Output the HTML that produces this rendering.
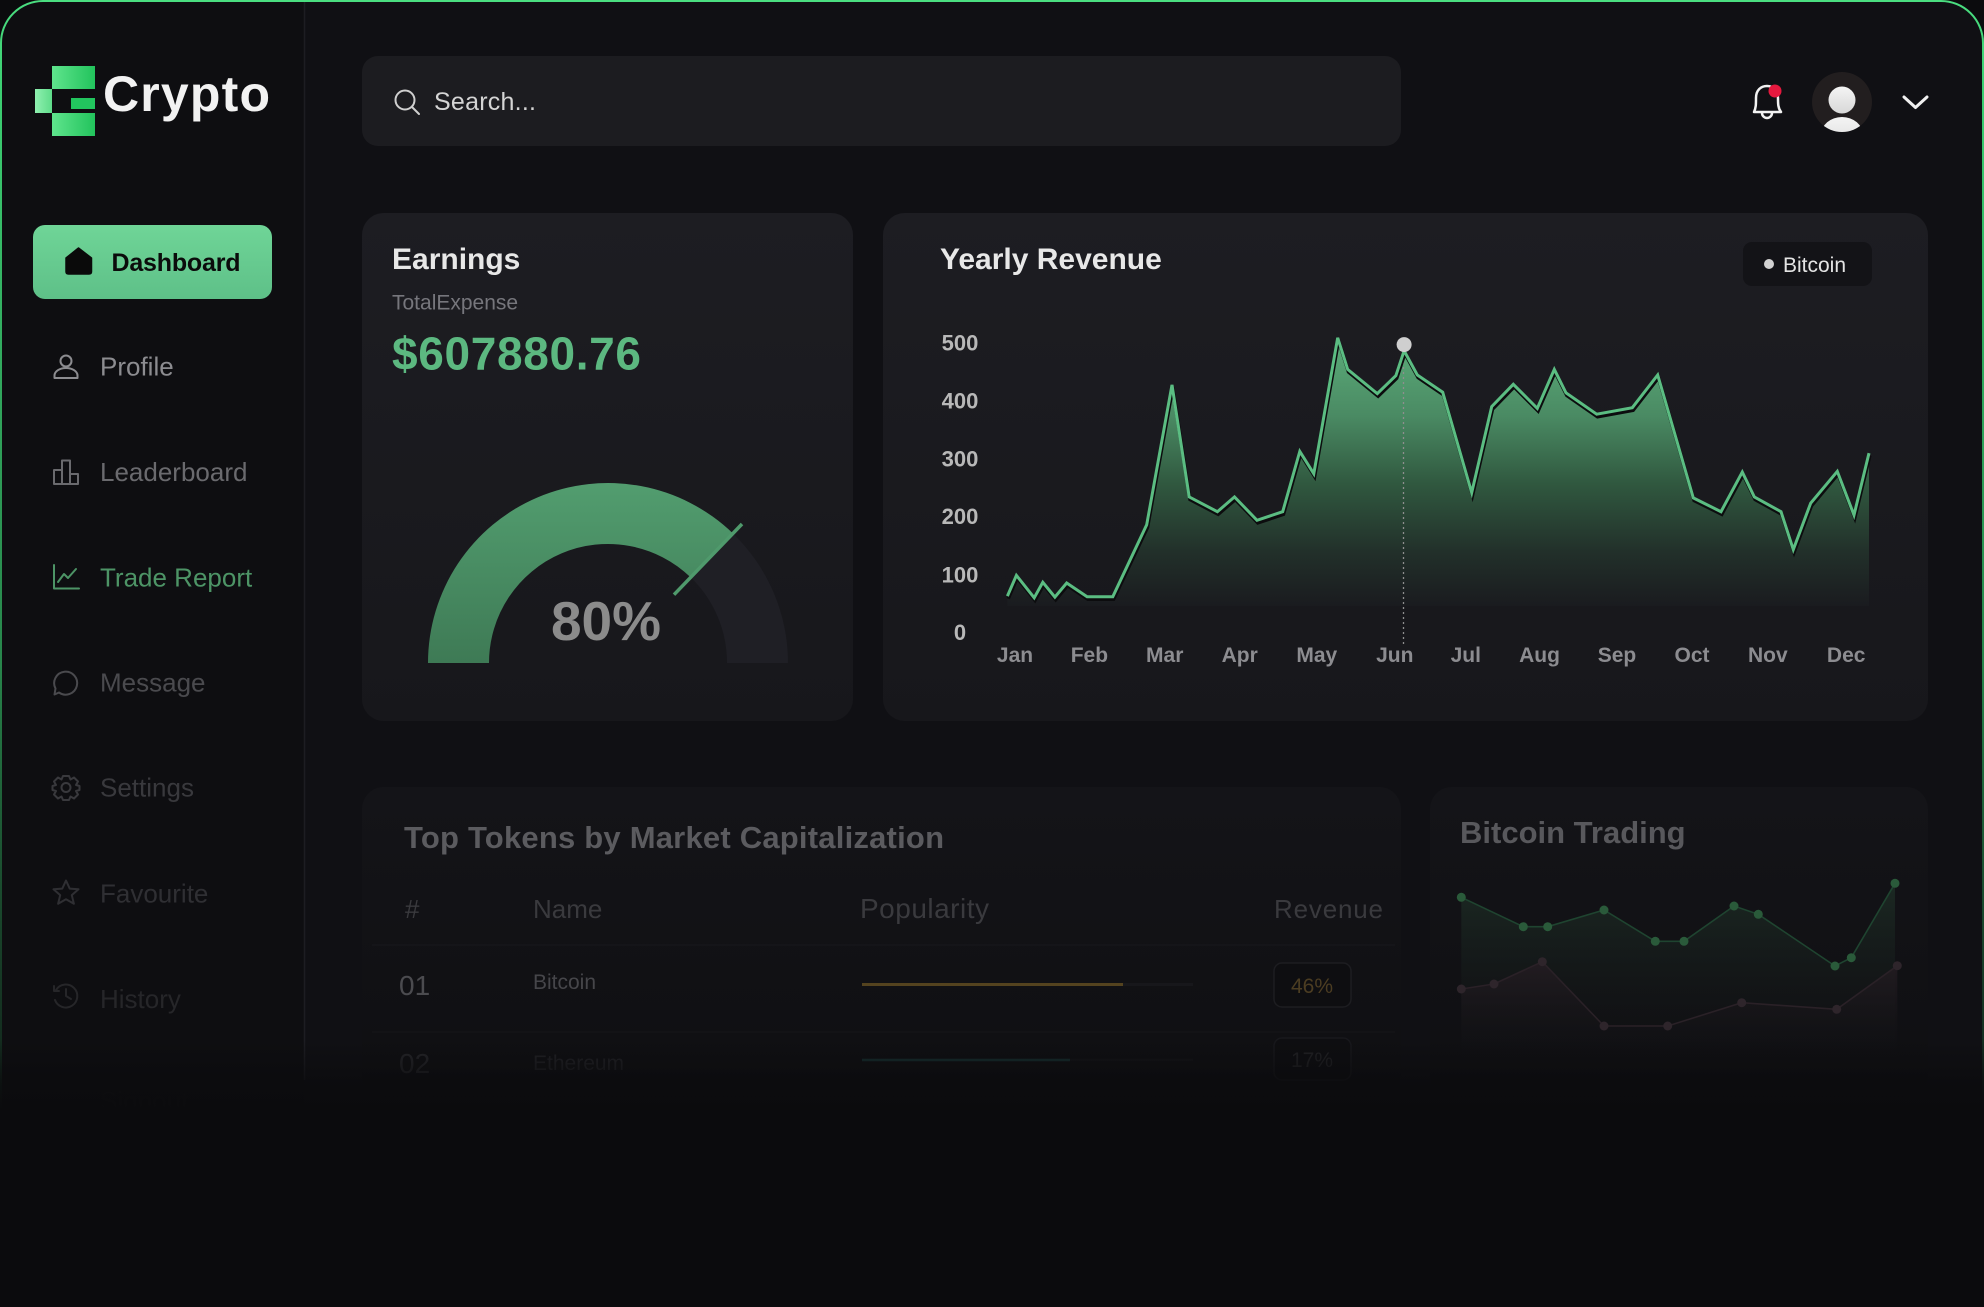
<!DOCTYPE html>
<html>
<head>
<meta charset="utf-8">
<style>
  html, body { margin:0; padding:0; background:#0b0b0d; }
  body { width:1984px; height:1307px; overflow:hidden; }
  svg { display:block; }
  text { font-family: "Liberation Sans", "DejaVu Sans", sans-serif; }
</style>
</head>
<body>
<svg width="1984" height="1307" viewBox="0 0 1984 1307" xmlns="http://www.w3.org/2000/svg">
  <defs>
    <clipPath id="frameClip">
      <path d="M0,1307 V42 A42,42 0 0 1 42,0 H1942 A42,42 0 0 1 1984,42 V1307 Z"/>
    </clipPath>
    <linearGradient id="bord" gradientUnits="userSpaceOnUse" x1="0" y1="0" x2="0" y2="1110">
      <stop offset="0" stop-color="#4ade80"/>
      <stop offset="0.08" stop-color="#3ccf72"/>
      <stop offset="0.6" stop-color="#2c9a55" stop-opacity="0.85"/>
      <stop offset="1" stop-color="#1f6e3c" stop-opacity="0.2"/>
    </linearGradient>
    <linearGradient id="fadeBottom" gradientUnits="userSpaceOnUse" x1="0" y1="1040" x2="0" y2="1110">
      <stop offset="0" stop-color="#0b0b0d" stop-opacity="0"/>
      <stop offset="0.6" stop-color="#0b0b0d" stop-opacity="0.75"/>
      <stop offset="1" stop-color="#0b0b0d" stop-opacity="1"/>
    </linearGradient>
    <linearGradient id="cardTop" x1="0" y1="0" x2="0" y2="1">
      <stop offset="0" stop-color="#1d1d22"/>
      <stop offset="1" stop-color="#17171b"/>
    </linearGradient>
    <linearGradient id="cardBot" x1="0" y1="0" x2="0" y2="1">
      <stop offset="0" stop-color="#141418"/>
      <stop offset="1" stop-color="#0f0f12"/>
    </linearGradient>
    <linearGradient id="btn" x1="0" y1="0" x2="0" y2="1">
      <stop offset="0" stop-color="#6fd597"/>
      <stop offset="1" stop-color="#5ec088"/>
    </linearGradient>
    <linearGradient id="logoA" x1="0" y1="0" x2="1" y2="0">
      <stop offset="0" stop-color="#5fe48d"/>
      <stop offset="1" stop-color="#22c35c"/>
    </linearGradient>
    <linearGradient id="logoB" x1="0" y1="0" x2="1" y2="0">
      <stop offset="0" stop-color="#8ff0b0"/>
      <stop offset="1" stop-color="#5fdc8a"/>
    </linearGradient>
    <linearGradient id="gauge" gradientUnits="userSpaceOnUse" x1="0" y1="483" x2="0" y2="663">
      <stop offset="0" stop-color="#529d6f"/>
      <stop offset="1" stop-color="#3e7a55"/>
    </linearGradient>
    <linearGradient id="area" gradientUnits="userSpaceOnUse" x1="0" y1="335" x2="0" y2="606">
      <stop offset="0" stop-color="#5cae7b"/>
      <stop offset="0.3" stop-color="#4a8a63"/>
      <stop offset="0.55" stop-color="#30583f"/>
      <stop offset="0.8" stop-color="#22302a"/>
      <stop offset="1" stop-color="#1a1b1f"/>
    </linearGradient>
    <linearGradient id="miniG" gradientUnits="userSpaceOnUse" x1="0" y1="880" x2="0" y2="1060">
      <stop offset="0" stop-color="#1d2d25" stop-opacity="0.9"/>
      <stop offset="1" stop-color="#121215" stop-opacity="0"/>
    </linearGradient>
    <linearGradient id="miniP" gradientUnits="userSpaceOnUse" x1="0" y1="960" x2="0" y2="1060">
      <stop offset="0" stop-color="#241c22" stop-opacity="0.95"/>
      <stop offset="1" stop-color="#121215" stop-opacity="0"/>
    </linearGradient>
    <linearGradient id="avBody" x1="0" y1="0" x2="0" y2="1">
      <stop offset="0" stop-color="#f4f4f4"/>
      <stop offset="1" stop-color="#d8d8d8"/>
    </linearGradient>
    <clipPath id="avClip"><circle cx="1842" cy="102" r="30"/></clipPath>
  </defs>

  <!-- background & frame -->
  <rect width="1984" height="1307" fill="#0b0b0d"/>
  <g clip-path="url(#frameClip)">
    <rect width="1984" height="1307" fill="#101014"/>
    <rect width="304" height="1307" fill="#0e0e11"/>
  </g>
  <line x1="304.5" y1="0" x2="304.5" y2="1080" stroke="#1d1d22" stroke-width="1.5"/>
  <path d="M1,1307 V43 A42,42 0 0 1 43,1 H1941 A42,42 0 0 1 1983,43 V1307" fill="none" stroke="url(#bord)" stroke-width="2"/>

  <!-- logo -->
  <rect x="52" y="66" width="43" height="23" fill="url(#logoA)"/>
  <rect x="35" y="89" width="17" height="24" fill="url(#logoB)"/>
  <rect x="71" y="98" width="24" height="11" fill="#22c55e"/>
  <rect x="52" y="113" width="43" height="23" fill="url(#logoA)"/>
  <text x="103" y="111" font-size="50" font-weight="bold" fill="#f2f2f2" textLength="167" lengthAdjust="spacing">Crypto</text>

  <!-- search -->
  <rect x="362" y="56" width="1039" height="90" rx="16" fill="#1c1c20"/>
  <circle cx="405" cy="100" r="9.5" fill="none" stroke="#cfcfcf" stroke-width="2"/>
  <line x1="412" y1="107" x2="419" y2="114" stroke="#cfcfcf" stroke-width="2" stroke-linecap="round"/>
  <text x="434" y="110" font-size="25" fill="#d4d4d4" textLength="102" lengthAdjust="spacing">Search...</text>

  <!-- top right -->
  <path d="M1754,112 C1756,108 1756,104 1756,98 C1756,90 1761,86 1767,86 C1773,86 1778,90 1778,98 C1778,104 1778,108 1781,112 Z" fill="none" stroke="#f2f2f2" stroke-width="2.5" stroke-linejoin="round"/>
  <path d="M1762,113 A5,5 0 0 0 1772,113" fill="none" stroke="#f2f2f2" stroke-width="2.5"/>
  <circle cx="1775" cy="91" r="6.5" fill="#e5183e"/>
  <circle cx="1842" cy="102" r="30" fill="#221e1f"/>
  <g clip-path="url(#avClip)">
    <circle cx="1842" cy="100" r="13.5" fill="url(#avBody)"/>
    <ellipse cx="1842" cy="135" rx="21" ry="18" fill="url(#avBody)"/>
  </g>
  <polyline points="1904,97 1915.5,107.5 1927,97" fill="none" stroke="#f0f0f0" stroke-width="3" stroke-linecap="round" stroke-linejoin="round"/>

  <!-- sidebar -->
  <rect x="33" y="225" width="239" height="74" rx="12" fill="url(#btn)"/>
  <path d="M66,258 L78.5,248 L91.5,258 V271.5 Q91.5,274 89,274 H68.5 Q66,274 66,271.5 Z" fill="#0a0a0a" stroke="#0a0a0a" stroke-width="1.5" stroke-linejoin="round"/>
  <text x="111.5" y="271" font-size="25" font-weight="bold" fill="#0b0b0b" textLength="129" lengthAdjust="spacing">Dashboard</text>

  <!-- Profile -->
  <g fill="none" stroke="#8c8c90" stroke-width="2">
    <circle cx="66" cy="361" r="5.5"/>
    <path d="M54.5,378 V375.5 A11.5,7.5 0 0 1 77.5,375.5 V378 Z" stroke-linejoin="round"/>
  </g>
  <text x="100" y="375.7" font-size="26" fill="#8c8c90">Profile</text>

  <!-- Leaderboard -->
  <g fill="none" stroke="#6a6a6e" stroke-width="2" stroke-linejoin="round">
    <path d="M54,484 V470 H62 V460.5 H70 V474 H78 V484 Z"/>
    <line x1="62" y1="470" x2="62" y2="484"/>
    <line x1="70" y1="474" x2="70" y2="484"/>
  </g>
  <text x="100" y="481" font-size="26" fill="#6a6a6e">Leaderboard</text>

  <!-- Trade Report -->
  <g fill="none" stroke="#4d9466" stroke-width="2" stroke-linejoin="round" stroke-linecap="round">
    <path d="M54,565 V588.5 H79"/>
    <path d="M58,582 L64,574 L68,578 L76,569"/>
  </g>
  <text x="100" y="586.7" font-size="26" fill="#4d9466">Trade Report</text>

  <!-- Message -->
  <g fill="none" stroke="#4a4a4e" stroke-width="2" stroke-linejoin="round">
    <path d="M59,692.5 A11.5,11.5 0 1 0 55.5,688.5 L54.5,694.5 Z"/>
  </g>
  <text x="100" y="691.7" font-size="26" fill="#4a4a4e">Message</text>

  <!-- Settings -->
  <g fill="none" stroke="#39393d" stroke-width="2">
    <circle cx="66" cy="787.5" r="4.5"/>
    <path d="M63,776 H69 L70.5,779.5 L74,777.5 L78,781.5 L76,785 L79.5,786 V790 L76,791 L78,794.5 L74,798.5 L70.5,796.5 L69,800 H63 L61.5,796.5 L58,798.5 L54,794.5 L56,791 L52.5,790 V786 L56,785 L54,781.5 L58,777.5 L61.5,779.5 Z" stroke-linejoin="round"/>
  </g>
  <text x="100" y="796.7" font-size="26" fill="#39393d">Settings</text>

  <!-- Favourite -->
  <path d="M66,880.5 L69.7,888.6 L78.5,889.3 L71.8,895.1 L73.9,903.8 L66,899.2 L58.1,903.8 L60.2,895.1 L53.5,889.3 L62.3,888.6 Z" fill="none" stroke="#2f2f33" stroke-width="2" stroke-linejoin="round"/>
  <text x="100" y="902.7" font-size="26" fill="#2f2f33">Favourite</text>

  <!-- History -->
  <g fill="none" stroke="#262629" stroke-width="2" stroke-linecap="round" stroke-linejoin="round">
    <path d="M56,990 A11.5,11.5 0 1 1 55,1000"/>
    <path d="M54,986 V991 H59"/>
    <path d="M66,989 V996 L71,999"/>
  </g>
  <text x="100" y="1008" font-size="26" fill="#262629">History</text>

  <text x="100" y="1110" font-size="26" fill="#17171a">Signout</text>

  <!-- Earnings card -->
  <rect x="362" y="213" width="491" height="508" rx="22" fill="url(#cardTop)"/>
  <text x="392" y="269" font-size="30" font-weight="bold" fill="#e8e8e8">Earnings</text>
  <text x="392" y="309.5" font-size="21" fill="#76767c">TotalExpense</text>
  <text x="392" y="369.5" font-size="46" font-weight="bold" fill="#5cb880" textLength="249" lengthAdjust="spacing">$607880.76</text>

  <path d="M733,533.5 A180,180 0 0 1 788,663 L727,663 A119,119 0 0 0 690.7,577.4 Z" fill="#1f1f25"/>
  <path d="M428,663 A180,180 0 0 1 733,533.5 L690.7,577.4 A119,119 0 0 0 489,663 Z" fill="url(#gauge)"/>
  <line x1="674" y1="594.7" x2="742" y2="524" stroke="#4f9a6c" stroke-width="3.5"/>
  <text x="606" y="640" font-size="55" font-weight="bold" fill="#8b8b8b" text-anchor="middle">80%</text>

  <!-- Yearly Revenue card -->
  <rect x="883" y="213" width="1045" height="508" rx="22" fill="url(#cardTop)"/>
  <text x="940" y="269" font-size="30" font-weight="bold" fill="#e8e8e8">Yearly Revenue</text>

  <rect x="1743" y="242" width="129" height="44" rx="9" fill="#131317"/>
  <circle cx="1769" cy="264" r="5" fill="#d2d2d2"/>
  <text x="1783" y="272" font-size="21" fill="#e4e4e4">Bitcoin</text>

  <g font-size="22" font-weight="bold" fill="#b8b8b8" text-anchor="middle">
    <text x="960" y="350.7">500</text>
    <text x="960" y="408.5">400</text>
    <text x="960" y="466.3">300</text>
    <text x="960" y="524.2">200</text>
    <text x="960" y="582.4">100</text>
    <text x="960" y="640.2">0</text>
  </g>

  <polygon fill="url(#area)" points="1007.4,596.1 1016.4,575.4 1034.2,597.8 1042.8,582.3 1054.9,597.1 1066.7,583 1087.1,596.7 1112.8,596.7 1146.7,524.8 1172,384.9 1189.2,496.9 1217.4,511.7 1234.5,496.9 1257,520.3 1282.7,511.7 1299.8,451.4 1313.8,473.8 1337.7,337.8 1347.7,369.4 1377.3,393.6 1395.9,375.6 1404.1,350.8 1417.3,375 1442.7,392.2 1471.7,492.7 1491.7,406.6 1513.3,384.3 1537.3,408.4 1554.3,369.4 1566,392.9 1596.7,414.2 1632.3,407.7 1657.7,375 1693.3,497.9 1721,511.7 1742.3,472.1 1754.3,496.9 1781,511.7 1793.3,549.6 1810.7,503.1 1837.3,471.4 1854,515.1 1869,453.1 1869,606 1007.4,606"/>
  <line x1="1403.5" y1="352" x2="1403.5" y2="644" stroke="#8e8e8e" stroke-width="1.3" stroke-dasharray="2 3"/>
  <polyline fill="none" stroke="#0c0c0e" stroke-width="3.5" stroke-linejoin="miter" stroke-miterlimit="4" transform="translate(0.8,2.6)" points="1007.4,596.1 1016.4,575.4 1034.2,597.8 1042.8,582.3 1054.9,597.1 1066.7,583 1087.1,596.7 1112.8,596.7 1146.7,524.8 1172,384.9 1189.2,496.9 1217.4,511.7 1234.5,496.9 1257,520.3 1282.7,511.7 1299.8,451.4 1313.8,473.8 1337.7,337.8 1347.7,369.4 1377.3,393.6 1395.9,375.6 1404.1,350.8 1417.3,375 1442.7,392.2 1471.7,492.7 1491.7,406.6 1513.3,384.3 1537.3,408.4 1554.3,369.4 1566,392.9 1596.7,414.2 1632.3,407.7 1657.7,375 1693.3,497.9 1721,511.7 1742.3,472.1 1754.3,496.9 1781,511.7 1793.3,549.6 1810.7,503.1 1837.3,471.4 1854,515.1 1869,453.1"/>
  <polyline fill="none" stroke="#5bbd82" stroke-width="3" stroke-linejoin="miter" stroke-miterlimit="4" points="1007.4,596.1 1016.4,575.4 1034.2,597.8 1042.8,582.3 1054.9,597.1 1066.7,583 1087.1,596.7 1112.8,596.7 1146.7,524.8 1172,384.9 1189.2,496.9 1217.4,511.7 1234.5,496.9 1257,520.3 1282.7,511.7 1299.8,451.4 1313.8,473.8 1337.7,337.8 1347.7,369.4 1377.3,393.6 1395.9,375.6 1404.1,350.8 1417.3,375 1442.7,392.2 1471.7,492.7 1491.7,406.6 1513.3,384.3 1537.3,408.4 1554.3,369.4 1566,392.9 1596.7,414.2 1632.3,407.7 1657.7,375 1693.3,497.9 1721,511.7 1742.3,472.1 1754.3,496.9 1781,511.7 1793.3,549.6 1810.7,503.1 1837.3,471.4 1854,515.1 1869,453.1"/>
  <circle cx="1404.1" cy="344.6" r="7.5" fill="#cfcfcf"/>

  <g font-size="21" font-weight="bold" fill="#8c8c90" text-anchor="middle">
    <text x="1015" y="662">Jan</text>
    <text x="1089.4" y="662">Feb</text>
    <text x="1164.7" y="662">Mar</text>
    <text x="1239.7" y="662">Apr</text>
    <text x="1316.8" y="662">May</text>
    <text x="1394.8" y="662">Jun</text>
    <text x="1465.8" y="662">Jul</text>
    <text x="1539.5" y="662">Aug</text>
    <text x="1617" y="662">Sep</text>
    <text x="1692" y="662">Oct</text>
    <text x="1767.8" y="662">Nov</text>
    <text x="1846.2" y="662">Dec</text>
  </g>

  <!-- Top tokens card -->
  <rect x="362" y="787" width="1039" height="310" rx="22" fill="url(#cardBot)"/>
  <text x="404" y="848" font-size="31" font-weight="bold" fill="#5b5b5f" textLength="540" lengthAdjust="spacing">Top Tokens by Market Capitalization</text>
  <g font-size="26" fill="#3a3a3e">
    <text x="405" y="918">#</text>
    <text x="533" y="918">Name</text>
    <text x="860" y="918" font-size="28" textLength="129" lengthAdjust="spacing">Popularity</text>
    <text x="1274" y="918" textLength="109" lengthAdjust="spacing">Revenue</text>
  </g>
  <line x1="372" y1="945" x2="1395" y2="945" stroke="#17171b" stroke-width="1.5"/>
  <line x1="372" y1="1032" x2="1395" y2="1032" stroke="#141417" stroke-width="1.5"/>
  <text x="399" y="995" font-size="28" fill="#4b4b4f">01</text>
  <text x="533" y="989" font-size="21" fill="#46464a">Bitcoin</text>
  <line x1="862" y1="984.5" x2="1193" y2="984.5" stroke="#17171b" stroke-width="3"/>
  <line x1="862" y1="984.5" x2="1123" y2="984.5" stroke="#54431f" stroke-width="3"/>
  <rect x="1274" y="963" width="77" height="44" rx="8" fill="#0e0e11" stroke="#1d1d21" stroke-width="1.5"/>
  <text x="1312" y="993" font-size="21" fill="#4c3d22" text-anchor="middle">46%</text>

  <text x="399" y="1073" font-size="28" fill="#27272b">02</text>
  <text x="533" y="1070" font-size="21" fill="#232327">Ethereum</text>
  <line x1="862" y1="1060" x2="1193" y2="1060" stroke="#141417" stroke-width="2.5"/>
  <line x1="862" y1="1060" x2="1070" y2="1060" stroke="#173030" stroke-width="2.5"/>
  <rect x="1274" y="1038" width="77" height="42" rx="8" fill="#0e0e11" stroke="#18181c" stroke-width="1.5"/>
  <text x="1312" y="1067" font-size="21" fill="#232326" text-anchor="middle">17%</text>

  <!-- Bitcoin Trading card -->
  <rect x="1430" y="787" width="498" height="310" rx="22" fill="url(#cardBot)"/>
  <text x="1460" y="843" font-size="31" font-weight="bold" fill="#58585c">Bitcoin Trading</text>

  <polygon fill="url(#miniG)" points="1461.3,897.3 1523.3,926.7 1547.7,926.7 1604,910 1655.3,941.3 1684,941.3 1734,906 1758.3,914.3 1835,966 1851.3,957.7 1895,883.3 1895,1060 1461.3,1060"/>
  <polyline fill="none" stroke="#1f4430" stroke-width="1.6" points="1461.3,897.3 1523.3,926.7 1547.7,926.7 1604,910 1655.3,941.3 1684,941.3 1734,906 1758.3,914.3 1835,966 1851.3,957.7 1895,883.3"/>
  <polygon fill="url(#miniP)" points="1461.3,989 1494,984 1542.3,961.7 1604,1026 1667.7,1026 1741.7,1002.7 1836.7,1009.3 1897.3,965.7 1897.3,1060 1461.3,1060"/>
  <polyline fill="none" stroke="#2a2127" stroke-width="1.6" points="1461.3,989 1494,984 1542.3,961.7 1604,1026 1667.7,1026 1741.7,1002.7 1836.7,1009.3 1897.3,965.7"/>
  <g fill="#2a5a3a">
    <circle cx="1461.3" cy="897.3" r="4.5"/><circle cx="1523.3" cy="926.7" r="4.5"/>
    <circle cx="1547.7" cy="926.7" r="4.5"/><circle cx="1604" cy="910" r="4.5"/>
    <circle cx="1655.3" cy="941.3" r="4.5"/><circle cx="1684" cy="941.3" r="4.5"/>
    <circle cx="1734" cy="906" r="4.5"/><circle cx="1758.3" cy="914.3" r="4.5"/>
    <circle cx="1835" cy="966" r="4.5"/><circle cx="1851.3" cy="957.7" r="4.5"/>
    <circle cx="1895" cy="883.3" r="4.5"/>
  </g>
  <g fill="#2e252b">
    <circle cx="1461.3" cy="989" r="4.5"/><circle cx="1494" cy="984" r="4.5"/>
    <circle cx="1542.3" cy="961.7" r="4.5"/><circle cx="1604" cy="1026" r="4.5"/>
    <circle cx="1667.7" cy="1026" r="4.5"/><circle cx="1741.7" cy="1002.7" r="4.5"/>
    <circle cx="1836.7" cy="1009.3" r="4.5"/><circle cx="1897.3" cy="965.7" r="4.5"/>
  </g>

  <!-- bottom fade -->
  <rect x="0" y="1040" width="1984" height="267" fill="url(#fadeBottom)"/>
</svg>
</body>
</html>
